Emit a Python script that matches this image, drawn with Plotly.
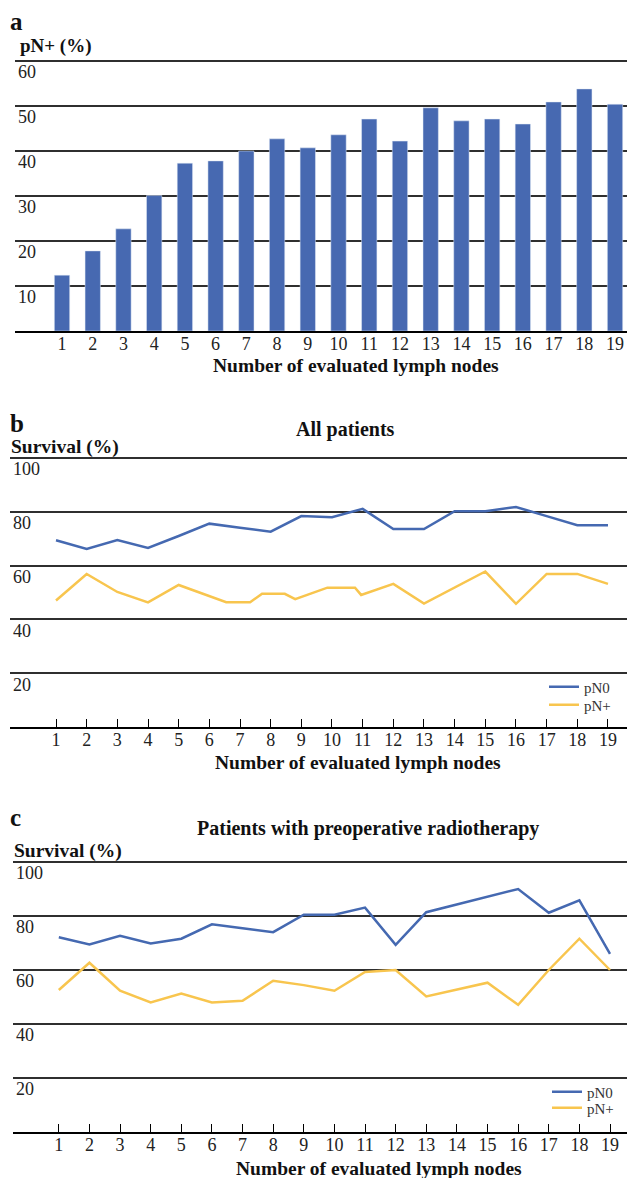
import plotly.graph_objects as go

# ---------------- data ----------------
nodes = list(range(1, 20))
node_labels = [str(n) for n in nodes]

# panel a: share of pN+ (%) by number of evaluated lymph nodes
pn_pos_rate = [12.4, 17.8, 22.7, 30.1, 37.3, 37.8, 40.0, 42.7, 40.7, 43.6,
               47.1, 42.2, 49.6, 46.7, 47.1, 46.0, 50.9, 53.8, 50.4]

# panel b: all patients, survival (%)
b_pn0_x = nodes
b_pn0_y = [69.4, 66.2, 69.5, 66.6, 71.0, 75.6, 74.1, 72.6, 78.4, 78.0,
           81.1, 73.6, 73.6, 80.2, 80.2, 81.8, 78.4, 75.0, 75.0]
b_pnp_x = [1, 2, 3, 4, 5, 6.55, 7.33, 7.72, 8.46, 8.8, 9.85, 10.75, 10.95,
           12, 13, 15, 16, 17, 18, 19]
b_pnp_y = [47.0, 56.9, 50.2, 46.3, 52.8, 46.4, 46.4, 49.5, 49.5, 47.5, 51.8,
           51.8, 49.1, 53.2, 45.9, 57.8, 45.8, 56.9, 56.9, 53.2]

# panel c: patients with preoperative radiotherapy, survival (%)
c_pn0_x = nodes
c_pn0_y = [72.1, 69.5, 72.7, 69.8, 71.6, 76.9, 75.5, 74.0, 80.5, 80.5,
           83.1, 69.3, 81.4, 84.3, 87.1, 90.0, 81.2, 85.8, 66.0]
c_pnp_x = nodes
c_pnp_y = [52.6, 62.7, 52.3, 48.0, 51.3, 48.0, 48.6, 56.0, 54.4, 52.3,
           59.3, 60.0, 50.2, 52.8, 55.3, 47.1, 60.0, 71.6, 60.0]

a_yticks = [10, 20, 30, 40, 50, 60]
bc_yticks = [20, 40, 60, 80, 100]

# ---------------- style ----------------
W, H = 627, 1178
FONT = "Liberation Serif"
BLUE_BAR = "#4769B1"
BLUE = "#4569B1"
GOLD = "#F8C54E"
GRID = "#2f2f2f"


def px(x):
    return x / W


def py(y):
    return 1 - y / H


fig = go.Figure()

fig.add_trace(go.Bar(x=nodes, y=pn_pos_rate, marker_color=BLUE_BAR, width=0.5,
                     showlegend=False, xaxis="x", yaxis="y"))

fig.add_trace(go.Scatter(x=b_pn0_x, y=b_pn0_y, mode="lines", name="pN0",
                         line=dict(color=BLUE, width=2.5), xaxis="x2", yaxis="y2",
                         legend="legend"))
fig.add_trace(go.Scatter(x=b_pnp_x, y=b_pnp_y, mode="lines", name="pN+",
                         line=dict(color=GOLD, width=2.5), xaxis="x2", yaxis="y2",
                         legend="legend2"))
fig.add_trace(go.Scatter(x=c_pn0_x, y=c_pn0_y, mode="lines", name="pN0",
                         line=dict(color=BLUE, width=2.5), xaxis="x3", yaxis="y3",
                         legend="legend3"))
fig.add_trace(go.Scatter(x=c_pnp_x, y=c_pnp_y, mode="lines", name="pN+",
                         line=dict(color=GOLD, width=2.5), xaxis="x3", yaxis="y3",
                         legend="legend4"))

tickfont = dict(family=FONT, size=18, color="#222")


def xaxis(dom, rng, ticks, anchor):
    d = dict(domain=dom, range=rng, tickvals=nodes, ticktext=node_labels,
             showline=True, linecolor="black", linewidth=1.6, showgrid=False,
             zeroline=False, tickfont=tickfont, fixedrange=True, anchor=anchor,
             ticklabelstandoff=-4)
    if ticks:
        d.update(ticks="inside", ticklen=8, tickwidth=1.4, tickcolor="black")
    else:
        d.update(ticks="")
    return d


def yaxis(dom, rng, tv, anchor):
    return dict(domain=dom, range=rng, tickvals=tv, showgrid=True, gridcolor=GRID,
                gridwidth=1.5, zeroline=False, showline=False, ticks="",
                ticklabelposition="inside", ticklabelshift=11,
                tickfont=tickfont, anchor=anchor, fixedrange=True)


fig.update_layout(
    width=W, height=H, autosize=False,
    margin=dict(l=0, r=0, t=0, b=0),
    paper_bgcolor="white", plot_bgcolor="white",
    font=dict(family=FONT, color="#222"),
    xaxis=xaxis([px(15), 1], [-0.53, 19.39], False, "y"),
    yaxis=yaxis([py(331), py(331 - 60.4 * 4.5)], [0, 60.4], a_yticks, "x"),
    xaxis2=xaxis([px(10), 1], [-0.5, 19.62], True, "y2"),
    yaxis2=yaxis([py(727), py(727 - 100.6 * 2.69)], [0, 100.6], bc_yticks, "x2"),
    xaxis3=xaxis([px(13), 1], [-0.496, 19.555], True, "y3"),
    yaxis3=yaxis([py(1132), py(1132 - 100.6 * 2.70)], [0, 100.6], bc_yticks, "x3"),
)

leg_font = dict(family=FONT, size=15, color="#333")
for name, xx, yy in [("legend", 544, 687), ("legend2", 544, 705),
                     ("legend3", 547, 1092), ("legend4", 547, 1108)]:
    fig.layout[name] = dict(x=px(xx), y=py(yy), xanchor="left", yanchor="middle",
                            bgcolor="rgba(0,0,0,0)", borderwidth=0, font=leg_font)


def ann(text, x, y, size, anchor="left", bold=True):
    fig.add_annotation(text=f"<b>{text}</b>" if bold else text,
                       x=px(x), y=py(y), xref="paper", yref="paper",
                       xanchor=anchor, yanchor="middle", showarrow=False,
                       font=dict(family=FONT, size=size, color="#111"))


ann("a", 8, 22, 25)
ann("pN+ (%)", 18, 46, 19)
ann("Number of evaluated lymph nodes", 356, 365, 19.5, "center")
ann("b", 8, 423, 25)
ann("All patients", 345, 429, 20, "center")
ann("Survival (%)", 9, 447, 19.5)
ann("Number of evaluated lymph nodes", 358, 762, 19.5, "center")
ann("c", 8, 817, 25)
ann("Patients with preoperative radiotherapy", 368, 828, 20, "center")
ann("Survival (%)", 12, 851, 19.5)
ann("Number of evaluated lymph nodes", 379, 1168, 19.5, "center")

fig.write_html("out.html", config={"displayModeBar": False},
               post_script="document.body.style.margin='0';document.body.style.padding='0';")
